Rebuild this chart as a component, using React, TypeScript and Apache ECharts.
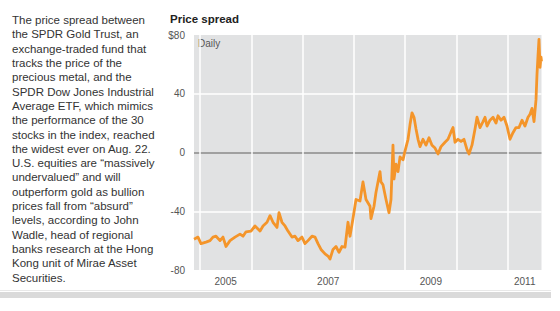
import React, { useEffect, useRef } from "react";
import * as echarts from "echarts";

// Decimal-year sample times and the GLD minus DIA price spread, in dollars
const dates: number[] = [
  2004.883, 2004.961, 2005.019, 2005.117, 2005.195, 2005.253, 2005.312, 2005.39, 2005.448, 2005.507,
  2005.585, 2005.682, 2005.78, 2005.838, 2005.897, 2005.994, 2006.072, 2006.17, 2006.228, 2006.306,
  2006.365, 2006.423, 2006.501, 2006.54, 2006.598, 2006.657, 2006.715, 2006.793, 2006.852, 2006.91,
  2006.988, 2007.047, 2007.105, 2007.183, 2007.242, 2007.3, 2007.359, 2007.437, 2007.495, 2007.534,
  2007.593, 2007.651, 2007.71, 2007.768, 2007.827, 2007.885, 2007.924, 2007.982, 2008.041, 2008.119,
  2008.177, 2008.236, 2008.314, 2008.333, 2008.392, 2008.431, 2008.509, 2008.528, 2008.567, 2008.626,
  2008.684, 2008.723, 2008.762, 2008.782, 2008.821, 2008.86, 2008.899, 2008.957, 2008.996, 2009.055,
  2009.094, 2009.133, 2009.172, 2009.211, 2009.25, 2009.289, 2009.347, 2009.405, 2009.464, 2009.522,
  2009.581, 2009.639, 2009.698, 2009.776, 2009.834, 2009.893, 2009.932, 2009.971, 2010.029, 2010.088,
  2010.146, 2010.205, 2010.244, 2010.302, 2010.361, 2010.4, 2010.458, 2010.517, 2010.556, 2010.595,
  2010.653, 2010.712, 2010.77, 2010.809, 2010.868, 2010.926, 2010.984, 2011.043, 2011.101, 2011.16,
  2011.218, 2011.277, 2011.335, 2011.394, 2011.433, 2011.472, 2011.511, 2011.55, 2011.569, 2011.589,
  2011.608, 2011.628, 2011.647, 2011.657,
];
const spread: number[] = [
  -59, -57.6, -62, -61, -60, -57.6, -57, -60, -57.6, -64,
  -60, -57.6, -55.6, -57, -54, -53.5, -50, -53.5, -50, -47.5,
  -43, -47.5, -51, -41, -47.5, -50, -53.5, -57.6, -57, -60,
  -57.6, -62, -60, -57, -57.6, -62, -66, -69, -70.5, -72.5,
  -66, -64, -68, -64, -64.5, -47.5, -57, -45, -32, -33,
  -20, -32, -36.6, -45, -36.6, -27, -13, -20, -22, -32,
  -41, -32, 5, -18, -8, -13, -3, -5, 1, 9,
  19, 27, 24, 16, 9, 4, 9, 5, 10, 5,
  3, -1, 4, 7, 9, 14, 17, 7, 9, 7.5,
  9, 2, -1, 5, 16, 24, 17, 21, 24, 18,
  22, 24, 20, 25, 22, 24, 18, 9, 13.5, 17,
  17, 22, 18, 24, 26, 30, 21, 36, 53, 66,
  77, 58, 65, 62,
];

// Year boundaries (grid lines) and year labels
const yearStarts: number[] = [2005, 2006, 2007, 2008, 2009, 2010, 2011];
const yearLabels: string[] = ["2005", "2007", "2009", "2011"];
const yearLabelPositions: number[] = [2005.5, 2007.5, 2009.5, 2011.33];

const xMin = 2004.883;
const xMax = 2011.657;

const storyLines: string[] = [
  "The price spread between",
  "the SPDR Gold Trust, an",
  "exchange-traded fund that",
  "tracks the price of the",
  "precious metal, and the",
  "SPDR Dow Jones Industrial",
  "Average ETF, which mimics",
  "the performance of the 30",
  "stocks in the index, reached",
  "the widest ever on Aug. 22.",
  "U.S. equities are \u201cmassively",
  "undervalued\u201d and will",
  "outperform gold as bullion",
  "prices fall from \u201cabsurd\u201d",
  "levels, according to John",
  "Wadle, head of regional",
  "banks research at the Hong",
  "Kong unit of Mirae Asset",
  "Securities.",
];

const FONT = "'Liberation Sans', Arial, Helvetica, sans-serif";

export default function App() {
  const ref = useRef<HTMLDivElement>(null);

  useEffect(() => {
    if (!ref.current) return;
    const chart = echarts.init(ref.current, null, { renderer: "svg" });
    const labelMap = new Map<number, string>();
    yearLabelPositions.forEach((p, i) => labelMap.set(p, yearLabels[i]));

    chart.setOption({
      animation: false,
      backgroundColor: "#ffffff",
      textStyle: { fontFamily: FONT },
      grid: {
        left: 194,
        right: 18.5,
        top: 35,
        bottom: 41,
        show: true,
        backgroundColor: "#e1e2e3",
        borderWidth: 0,
      },
      xAxis: {
        type: "value",
        min: xMin,
        max: xMax,
        axisLine: { show: false },
        axisTick: { show: false, customValues: yearStarts },
        splitLine: { show: true, lineStyle: { color: "#ffffff", width: 1.5 } },
        axisLabel: {
          customValues: yearLabelPositions,
          formatter: (v: number) => labelMap.get(v) ?? String(Math.floor(v)),
          color: "#555555",
          fontSize: 10,
          margin: 6,
          fontFamily: FONT,
        },
      },
      yAxis: {
        type: "value",
        min: -80,
        max: 80,
        interval: 40,
        axisLine: { show: false },
        axisTick: { show: false },
        axisLabel: {
          formatter: (v: number) => (v === 80 ? "$80" : String(v)),
          color: "#555555",
          fontSize: 10,
          margin: 9,
          fontFamily: FONT,
        },
        splitLine: {
          show: true,
          lineStyle: {
            color: ["rgba(0,0,0,0)", "#ffffff", "#8a8a8a", "#ffffff", "rgba(0,0,0,0)"],
            width: 1.5,
          },
        },
      },
      series: [
        {
          type: "line",
          data: dates.map((d, i) => [d, spread[i]]),
          showSymbol: false,
          symbol: "none",
          lineStyle: { color: "#f4952a", width: 2.8, join: "round" },
          clip: true,
          z: 3,
        },
      ],
      graphic: [
        {
          type: "text",
          left: 12,
          top: 13,
          style: {
            text: storyLines.join("\n"),
            fill: "#333333",
            font: `11.5px ${FONT}`,
            lineHeight: 14.3,
          },
        },
        {
          type: "text",
          left: 170,
          top: 13,
          style: {
            text: "Price spread",
            fill: "#222222",
            font: `bold 11.5px ${FONT}`,
          },
        },
        {
          type: "text",
          left: 198,
          top: 38,
          style: {
            text: "Daily",
            fill: "#555555",
            font: `10px ${FONT}`,
          },
        },
        {
          type: "rect",
          shape: { x: 0, y: 290, width: 551, height: 1 },
          style: { fill: "#e8e8e8" },
        },
        {
          type: "rect",
          shape: { x: 0, y: 292, width: 551, height: 6 },
          style: { fill: "#dadada" },
        },
      ],
    });

    return () => chart.dispose();
  }, []);

  return (
    <div
      ref={ref}
      style={{ position: "absolute", left: 0, top: 0, width: 560, height: 311 }}
    />
  );
}
